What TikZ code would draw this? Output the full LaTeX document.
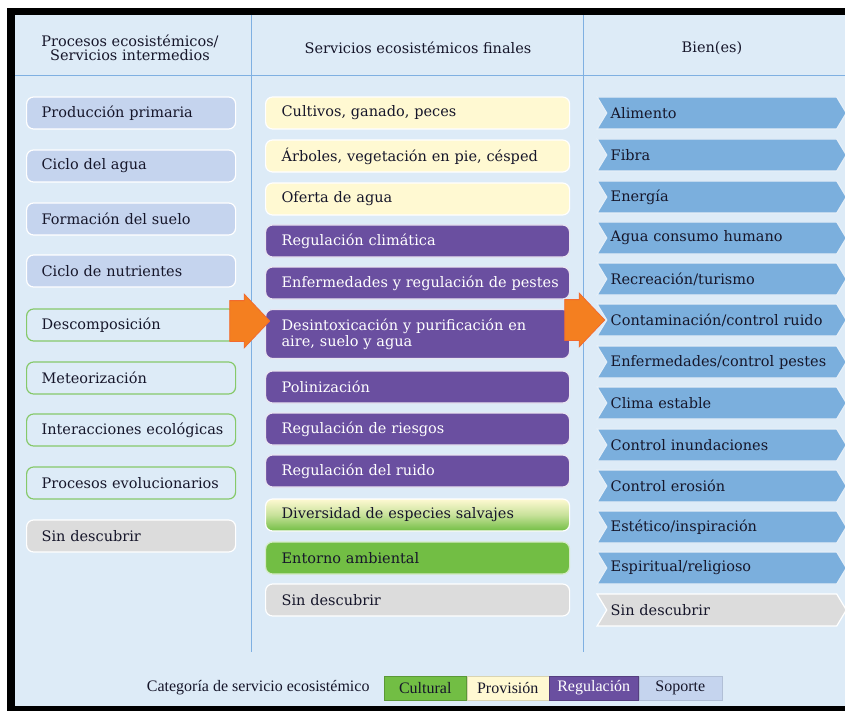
\documentclass[tikz,border=0pt]{standalone}
\usepackage{fontspec}
\setmainfont{DejaVu Serif}
\newfontfamily\legendfont{Liberation Serif}
\usetikzlibrary{shapes.symbols,shapes.arrows}
\definecolor{fondo}{HTML}{DDEBF7}
\definecolor{linea}{HTML}{7FB0E2}
\definecolor{soporteC}{HTML}{C5D4EE}
\definecolor{provC}{HTML}{FFF9D2}
\definecolor{regC}{HTML}{6A4FA0}
\definecolor{cultC}{HTML}{72BE44}
\definecolor{bienC}{HTML}{7BAFDD}
\definecolor{grisC}{HTML}{DCDCDC}
\definecolor{verdeB}{HTML}{86C96A}
\definecolor{flecha}{HTML}{F47F20}
\definecolor{flechaB}{HTML}{F26A2E}
\definecolor{texto}{HTML}{16162A}

\begin{document}
\begin{tikzpicture}
[
x=1pt,y=-1pt,
caja/.style={rounded corners=7pt,anchor=west,minimum height=32pt,line width=1.2pt,
             inner sep=0pt,align=left,text=texto,font=\fontsize{14.5}{16}\selectfont},
proceso/.style={caja,text width=209pt,execute at begin node={\leftskip=15pt}},
servicio/.style={caja,text width=304pt,execute at begin node={\leftskip=16pt}},
soporte/.style={proceso,fill=soporteC,draw=white},
abierto/.style={proceso,fill=fondo,draw=verdeB},
sinproc/.style={proceso,fill=grisC,draw=white},
provision/.style={servicio,fill=provC,draw=white},
regulacion/.style={servicio,fill=regC,draw=white!85!regC,text=white},
cultural/.style={servicio,fill=cultC,draw=white!70!cultC},
mixto/.style={servicio,top color=provC,bottom color=cultC,middle color=provC!60!cultC,draw=white},
sinserv/.style={servicio,fill=grisC,draw=white},
bien/.style={signal,signal from=west,signal to=east,signal pointer angle=118,
             anchor=west,minimum width=242pt,minimum height=32pt,inner xsep=4pt,inner ysep=0pt,
             text width=222pt,align=left,fill=bienC,draw=white!80!bienC,line width=1.2pt,
             text=texto,font=\fontsize{14.5}{16}\selectfont},
sinbien/.style={bien,fill=grisC,draw=white},
encabezado/.style={align=center,text=texto,font=\fontsize{14.5}{14}\selectfont},
flechagrande/.style={single arrow,fill=flecha,draw=flechaB,line width=0.8pt,minimum height=40pt,
             inner xsep=0pt,inner ysep=20pt,single arrow head extend=6.5pt,single arrow tip angle=93},
leyenda/.style={minimum width=#1,minimum height=24pt,inner sep=0pt,anchor=west,
             font=\legendfont\fontsize{16}{16}\selectfont,text=texto,line width=0.5pt},
]

%Frame and columns
\useasboundingbox (0,0) rectangle (845,711);
\fill[black] (7,8) rectangle (845,711);
\fill[fondo] (15,15) rectangle (845,706);
\draw[linea,line width=1pt] (15,76) -- (845,76);
\draw[linea,line width=1pt] (251,15) -- (251,652);
\draw[linea,line width=1pt] (583,15) -- (583,652);

%Headers
\node[encabezado] (hproc) at (130,48) {Procesos ecosistémicos/\\Servicios intermedios};
\node[encabezado] (hserv) at (418,48) {Servicios ecosistémicos finales};
\node[encabezado] (hbien) at (712,48) {Bien(es)};

%Left column
\node[soporte] (prim) at (26,113) {Producción primaria};
\node[soporte] (cagua) at (26,166) {Ciclo del agua};
\node[soporte] (suelo) at (26,219) {Formación del suelo};
\node[soporte] (nutr) at (26,271) {Ciclo de nutrientes};
\node[abierto] (desc) at (26,325) {Descomposición};
\node[abierto] (meteo) at (26,378) {Meteorización};
\node[abierto] (inter) at (26,430) {Interacciones ecológicas};
\node[abierto] (evol) at (26,483) {Procesos evolucionarios};
\node[sinproc] (sinp) at (26,536) {Sin descubrir};

%Middle column
\node[provision] (cult) at (265,113) {Cultivos, ganado, peces};
\node[provision] (arb) at (265,156) {Árboles, vegetación en pie, césped};
\node[provision] (ofer) at (265,199) {Oferta de agua};
\node[regulacion] (clim) at (265,241) {Regulación climática};
\node[regulacion] (enf) at (265,283) {Enfermedades y regulación de pestes};
\node[regulacion,minimum height=49pt] (desi) at (265,334) {Desintoxicación y purificación en\\aire, suelo y agua};
\node[regulacion] (poli) at (265,387) {Polinización};
\node[regulacion] (ries) at (265,429) {Regulación de riesgos};
\node[regulacion] (ruido) at (265,471) {Regulación del ruido};
\node[mixto] (div) at (265,515) {Diversidad de especies salvajes};
\node[cultural] (ent) at (265,558) {Entorno ambiental};
\node[sinserv] (sins) at (265,600) {Sin descubrir};

%Right column
\node[bien] (alim) at (606,113) {Alimento};
\node[bien] (fib) at (606,155) {Fibra};
\node[bien] (ener) at (606,197) {Energía};
\node[bien] (hum) at (606,238) {Agua consumo humano};
\node[bien] (recr) at (606,279) {Recreación/turismo};
\node[bien] (cont) at (606,320) {Contaminación/control ruido};
\node[bien] (pest) at (606,362) {Enfermedades/control pestes};
\node[bien] (estab) at (606,403) {Clima estable};
\node[bien] (inund) at (606,445) {Control inundaciones};
\node[bien] (eros) at (606,486) {Control erosión};
\node[bien] (estet) at (606,527) {Estético/inspiración};
\node[bien] (espi) at (606,568) {Espiritual/religioso};
\node[sinbien] (sinb) at (606,610) {Sin descubrir};

%Orange arrows
\node[flechagrande] (f1) at (240,321) {};
\node[flechagrande] (f2) at (575,320) {};

%Legend
\node[anchor=east,font=\legendfont\fontsize{16}{16}\selectfont,text=texto] (cat) at (373,688) {Categoría de servicio ecosistémico};
\node[leyenda=82pt,fill=cultC,draw=cultC!80!black] (lcul) at (384,688) {Cultural};
\node[leyenda=82pt,fill=provC,draw=provC!85!black] (lpro) at (lcul.east) {Provisión};
\node[leyenda=89pt,fill=regC,draw=regC!80!black,text=white] (lreg) at (lpro.east) {Regulación};
\node[leyenda=83pt,fill=soporteC,draw=soporteC!90!black] (lsop) at (lreg.east) {Soporte};
\end{tikzpicture}
\end{document}
